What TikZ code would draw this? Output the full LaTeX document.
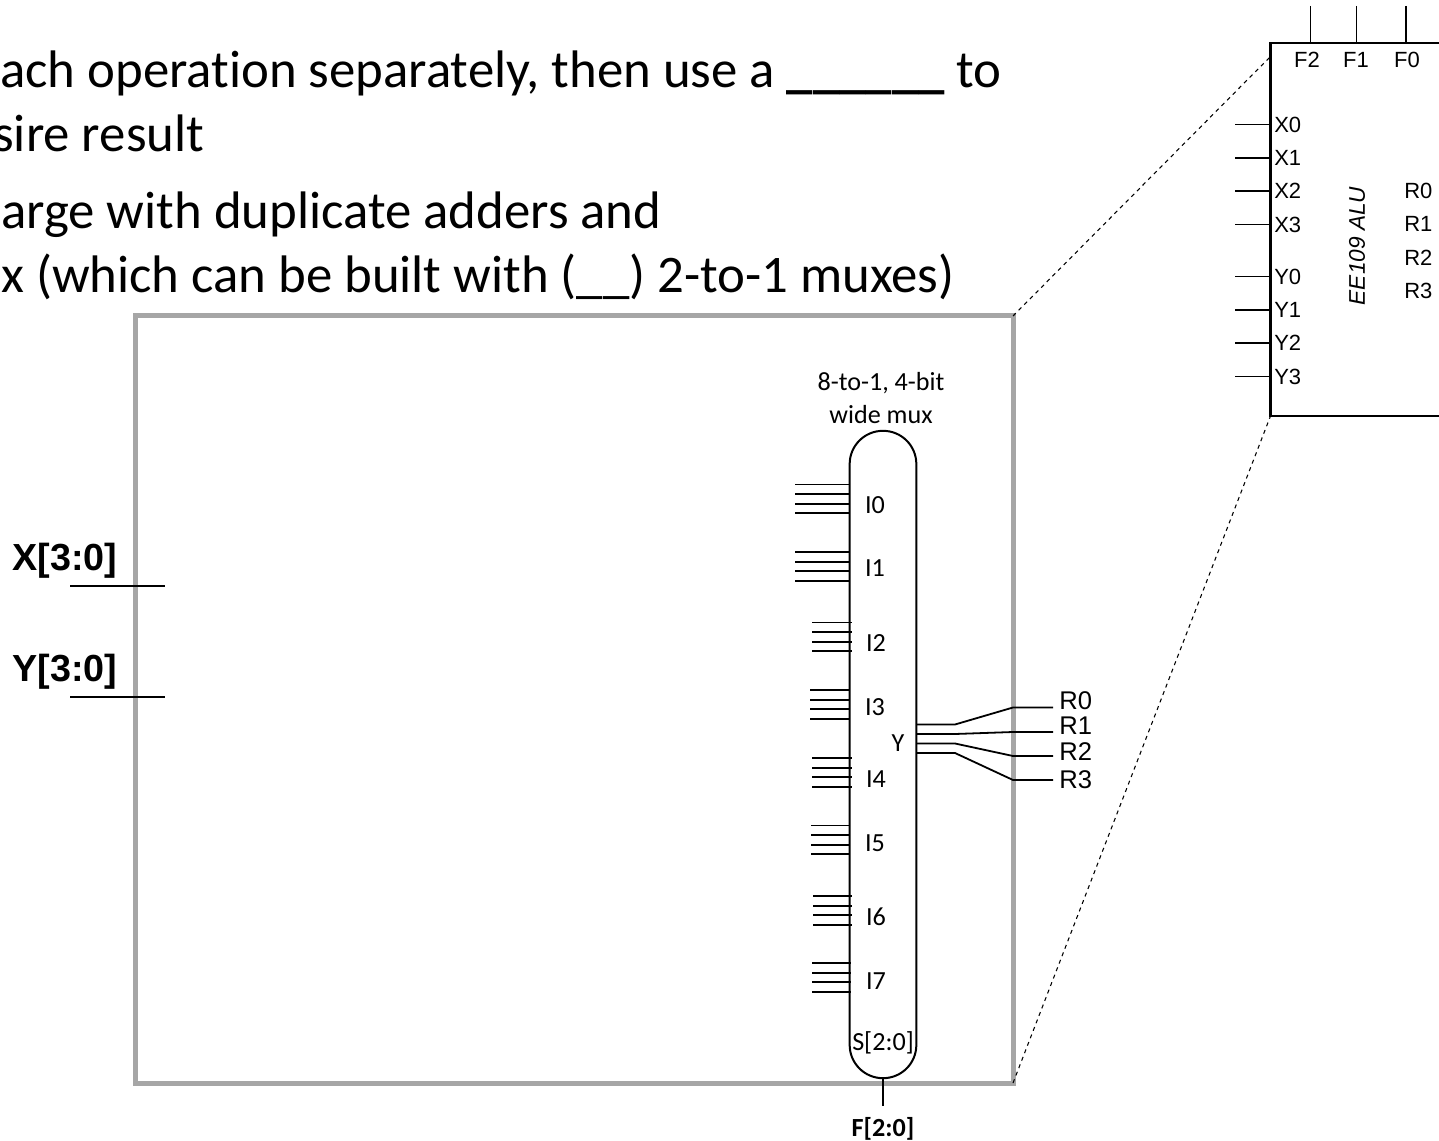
\documentclass[tikz,border=0pt]{standalone}
\usepackage{fontspec}
\setmainfont[Ligatures=CommonOff]{Carlito}
\newfontfamily\arialfont{Liberation Sans}
\usetikzlibrary{positioning, calc}
\tikzset{
	headline/.style={anchor=base west, inner sep=0pt, font=\fontsize{39.6}{39.6}\selectfont},
	muxlabel/.style={inner sep=0pt, yshift=-0.75pt, font=\fontsize{19.6}{19.6}\selectfont},
	pinlabel/.style={inner sep=0pt, font=\arialfont\fontsize{16.5}{16.5}\selectfont},
	outlabel/.style={anchor=west, inner sep=0pt, font=\arialfont\fontsize{19.2}{19.2}\selectfont},
	buslabel/.style={inner sep=0pt, font=\arialfont\bfseries\fontsize{28.3}{28.3}\selectfont},
	wire/.style={line width=1.35pt},
	zoomline/.style={line width=0.8pt, dashed}
}
\begin{document}
\begin{tikzpicture}[x=0.75pt, y=-0.75pt]
	\useasboundingbox (0,0) rectangle (1439,1141);
	% slide text
	\node[headline] (line1) at (0,88) {ach operation separately, then use a \textbf{\_\_\_\_\_\_} to};
	\node[headline] (line2) at (-7,152) {sire result};
	\node[headline] (line3) at (1,229) {arge with duplicate adders and};
	\node[headline] (line4) at (1,293) {x (which can be built with (\_\_) 2-to-1 muxes)};
	% inside of the alu
	\node[draw=black!35, line width=3.75pt, outer sep=0pt, minimum width=658.5pt, minimum height=575.25pt] (frame) at (574,699.5) {};
	\node[draw, fill=white, line width=1.5pt, outer sep=0pt, minimum width=50pt, minimum height=485.5pt, rounded corners=24.9pt] (mux) at (883,754.5) {};
	\node[muxlabel] (title1) at (881,382) {8-to-1, 4-bit};
	\node[muxlabel] (title2) at (881,414) {wide mux};
	\foreach \inp/\ypos/\xpos/\xstart/\xend/\ystart in {I0/504/875/795/850/484.5, I1/567/875/795/850/552, I2/642/876/812/852/622.5, I3/706/875/810/850/690, I4/778/876/812/852/758, I5/842/875/811/850/825.5, I6/916/876/813/852/896, I7/980/876/812/851/963} {
		\node[muxlabel] (\inp) at (\xpos,\ypos) {\inp};
		\foreach \k in {0,1,2,3} {
			\coordinate (\inp a\k) at (\xstart,\ystart+9.6*\k);
			\coordinate (\inp b\k) at (\xend,\ystart+9.6*\k);
			\draw[wire] (\inp a\k) -- (\inp b\k);
		}
	}
	\node[muxlabel] (muxout) at (898,742) {Y};
	\node[muxlabel] (sel) at (883,1042) {S[2:0]};
	\coordinate (selend) at (883,1106);
	\draw[wire] (mux.south) -- (selend);
	\node[muxlabel, font=\bfseries\fontsize{19.6}{19.6}\selectfont, below=7.5pt of selend] (fbus) {F[2:0]};
	% mux outputs
	\foreach \res/\ymux/\yout/\ylabel in {R0/724.5/707.5/701, R1/734/732/726, R2/743.5/756/752, R3/753/780/780} {
		\node[outlabel] (\res) at (1059,\ylabel) {\res};
		\coordinate (\res a) at (mux.east |- 0,\ymux);
		\coordinate (\res b) at (955,\ymux);
		\coordinate (\res c) at (1013,\yout);
		\coordinate (\res d) at (1053,\yout);
		\draw[wire] (\res a) -- (\res b) -- (\res c) -- (\res d);
	}
	% bus inputs
	\node[buslabel] (xbus) at (65,561) {X[3:0]};
	\node[buslabel] (ybus) at (65,672) {Y[3:0]};
	\foreach \from/\ypos in {xbus/586, ybus/697} {
		\coordinate (\from a) at (70,\ypos);
		\coordinate (\from b) at (165,\ypos);
		\draw[line width=1.9pt] (\from a) -- (\from b);
	}
	% alu symbol
	\coordinate (alutr) at (1445,43);
	\coordinate (alutl) at (1270.5,43);
	\coordinate (alubl) at (1270.5,416);
	\coordinate (alubr) at (1445,416);
	\draw[line width=1.6pt] (alutr) -- (alutl) -- (alubl) -- (alubr);
	\coordinate (zoomtop) at (1270,57);
	\draw[zoomline] (frame.north east) -- (zoomtop);
	\draw[zoomline] (frame.south east) -- (alubl);
	\foreach \pin/\xpos/\xlab in {F2/1310.5/1307, F1/1356.5/1356, F0/1406/1407} {
		\node[pinlabel] (\pin) at (\xlab,60) {\pin};
		\coordinate (\pin a) at (\xpos,6);
		\coordinate (\pin b) at (\xpos,43);
		\draw[wire] (\pin a) -- (\pin b);
	}
	\foreach \pin/\ypos in {X0/124.5, X1/158, X2/191, X3/224.5, Y0/276.5, Y1/310, Y2/343, Y3/376.5} {
		\node[pinlabel, anchor=west] (\pin) at (1274,\ypos) {\pin};
		\coordinate (\pin a) at (1235,\ypos);
		\draw[wire] (\pin a) -- (\pin a -| alutl);
	}
	\foreach \pin/\ypos in {R0/191, R1/224, R2/258, R3/291} {
		\node[pinlabel, anchor=west] (alu\pin) at (1404,\ypos) {\pin};
	}
	\node[pinlabel, rotate=90, font=\arialfont\itshape\fontsize{17}{17}\selectfont] (aluname) at (1357,246) {EE109 ALU};
\end{tikzpicture}
\end{document}
